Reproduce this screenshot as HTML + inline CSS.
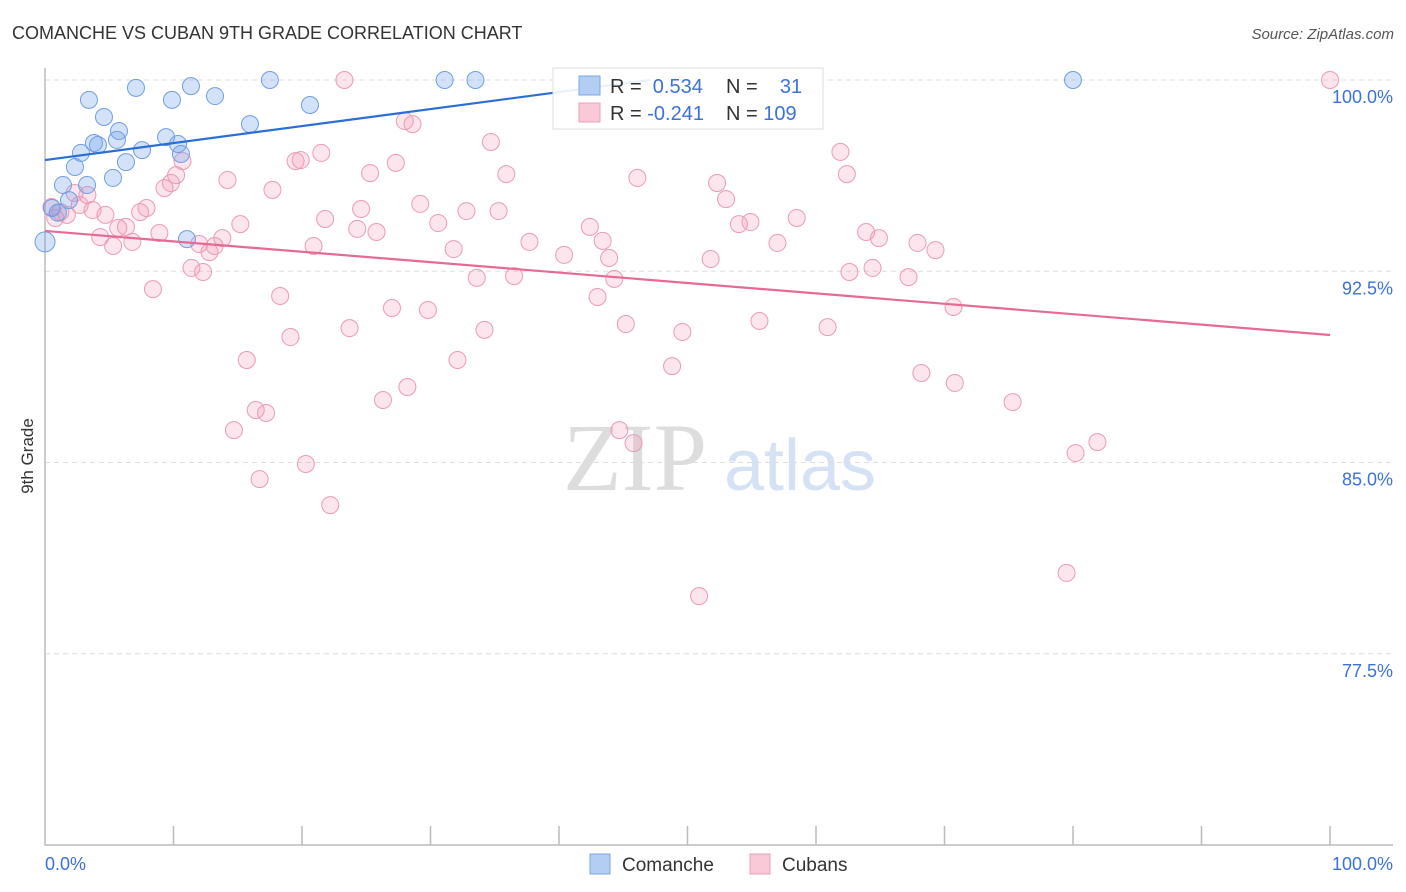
<!DOCTYPE html>
<html><head><meta charset="utf-8"><style>
body{margin:0;background:#fff;width:1406px;height:892px;overflow:hidden;font-family:"Liberation Sans",sans-serif}
svg{position:absolute;left:0;top:0}
</style></head><body>
<svg id="chart" width="1406" height="892">
<text x="12" y="39" font-size="18" fill="#333">COMANCHE VS CUBAN 9TH GRADE CORRELATION CHART</text>
<text x="1394" y="39" font-size="15" fill="#555" font-style="italic" text-anchor="end">Source: ZipAtlas.com</text>
<text x="33" y="456" font-size="17" fill="#333" text-anchor="middle" transform="rotate(-90 33 456)">9th Grade</text>
<text x="635" y="490" font-size="96" fill="#ddd" font-family="Liberation Serif,serif" text-anchor="middle">ZIP</text>
<text x="800" y="490" font-size="72" fill="#d5e2f5" text-anchor="middle">atlas</text>
<g id="grid"></g><g id="axes"></g><g id="pts"></g><g id="lines"></g>
<g>
<rect x="553" y="68" width="270" height="61" fill="#fff" fill-opacity="0.9" stroke="#ddd"/>
<rect x="579" y="76" width="21" height="19" fill="#b3cdf3" stroke="#7aa7e6"/>
<rect x="579" y="103" width="21" height="19" fill="#f9c9d7" stroke="#eca0b8"/>
<text x="610" y="93" font-size="20" fill="#333">R = <tspan fill="#3b72d9">&#160;0.534</tspan></text>
<text x="726" y="93" font-size="20" fill="#333">N = <tspan fill="#3b72d9">&#160;&#160;&#160;31</tspan></text>
<text x="610" y="120" font-size="20" fill="#333">R = <tspan fill="#3b72d9">-0.241</tspan></text>
<text x="726" y="120" font-size="20" fill="#333">N = <tspan fill="#3b72d9">109</tspan></text>
</g>
<g>
<rect x="590" y="854" width="20" height="20" fill="#b3cdf3" stroke="#7aa7e6"/>
<text x="622" y="871" font-size="19" fill="#333">Comanche</text>
<rect x="750" y="854" width="20" height="20" fill="#f9c9d7" stroke="#eca0b8"/>
<text x="782" y="871" font-size="19" fill="#333">Cubans</text>
</g>
</svg>
<script>
const yTicks=[100,92.5,85,77.5];
const yTickLabels=["100.0%","92.5%","85.0%","77.5%"];
const xTickLabels=["0.0%","100.0%"];
const comancheX=[0,0.54,1.4,1.87,2.33,2.8,3.27,3.42,3.81,4.12,4.59,5.29,5.6,5.76,6.3,7.08,7.55,9.42,9.88,10.35,10.58,11.05,11.36,13.23,15.95,17.5,20.62,31.1,33.5,80.0,1.0];
const comancheY=[93.65,94.98,95.88,95.29,96.59,97.14,95.88,99.22,97.53,97.45,98.55,96.16,97.65,98.0,96.78,99.69,97.25,97.76,99.22,97.49,97.1,93.76,99.76,99.37,98.27,100,99.02,100,100,100,94.8];
const cubansX=[0.5,0.8,1.2,1.7,2.3,2.7,3.3,3.7,4.3,4.7,5.3,5.7,6.3,6.8,7.4,7.9,8.4,8.9,9.3,9.8,10.2,10.7,11.4,12.0,12.3,12.8,13.2,13.8,14.2,14.7,15.2,15.7,16.4,16.7,17.2,17.7,18.3,19.1,19.5,19.9,20.3,20.9,21.5,21.8,22.2,23.3,23.7,24.3,24.6,25.3,25.8,26.3,27.0,27.3,28.0,28.2,28.6,29.2,29.8,30.6,31.8,32.1,32.8,33.6,34.2,34.7,35.3,35.9,36.5,37.7,40.4,42.4,43.0,43.4,43.9,44.3,44.7,45.2,45.8,46.1,48.8,49.6,50.9,51.8,52.3,53.0,54.0,54.9,55.6,57.0,58.5,60.9,61.9,62.4,62.6,63.9,64.4,64.9,67.2,67.9,68.2,69.3,70.7,70.8,75.3,79.5,80.2,81.9,100];
const cubansY=[95.02,94.59,94.82,94.71,95.57,95.1,95.49,94.9,93.84,94.71,93.49,94.2,94.24,93.65,94.82,94.98,91.8,94.0,95.76,95.96,96.27,96.82,92.63,93.57,92.47,93.25,93.49,93.8,96.08,86.27,94.35,89.02,87.06,84.35,86.94,95.69,91.53,89.92,96.82,96.86,84.94,93.49,97.14,94.55,83.33,100,90.27,94.16,94.94,96.35,94.04,87.45,91.06,96.75,98.39,87.96,98.27,95.14,90.98,94.39,93.37,89.02,94.86,92.24,90.2,97.57,94.86,96.31,92.31,93.65,93.14,94.24,91.49,93.69,93.02,92.2,86.27,90.43,85.76,96.16,88.78,90.12,79.76,92.98,95.96,95.33,94.35,94.43,90.55,93.61,94.59,90.31,97.18,96.31,92.47,94.04,92.63,93.8,92.27,93.61,88.51,93.33,91.1,88.12,87.37,80.67,85.37,85.8,100];
const trendComanche=[0,96.86,47.1,100];
const trendCubans=[0,94.08,100,90.0];

const X=v=>45+v*12.85;
const Y=v=>80+(100-v)*25.5;
const NS="http://www.w3.org/2000/svg";
function mk(t,a,parent){const e=document.createElementNS(NS,t);for(const k in a)e.setAttribute(k,a[k]);parent.appendChild(e);return e;}
const grid=document.getElementById('grid'),axes=document.getElementById('axes'),pts=document.getElementById('pts'),lines=document.getElementById('lines');
yTicks.forEach((t,i)=>{
 const g=mk('line',{x1:45,x2:1393,y1:Y(t),y2:Y(t),stroke:'#ddd','stroke-dasharray':'5,4'},grid);
 
 
 const l=mk('text',{x:1393,y:Y(t)+23,'font-size':18,fill:'#3b72d9','text-anchor':'end'},grid);
 l.textContent=yTickLabels[i];
 
 
});
const ax=mk('path',{d:`M45 68V845H1393`,stroke:'#bbb',fill:'none','stroke-width':1.5},axes);


for(let i=1;i<=10;i++){
 const t=mk('line',{x1:X(i*10),x2:X(i*10),y1:826,y2:845,stroke:'#bbb','stroke-width':1.5},axes);
 
 
}
[[0,'start'],[100,'end']].forEach((p,i)=>{
 const l=mk('text',{x:i?1393:45,y:870,'font-size':18,fill:'#3b72d9','text-anchor':p[1]},axes);
 l.textContent=xTickLabels[i];
 
 
});
cubansX.forEach((x,i)=>{
 const c=mk('circle',{cx:X(x),cy:Y(cubansY[i]),r:8.5,fill:'rgba(242,150,180,0.25)',stroke:'#eb9bb6','stroke-width':1},pts);
 
 
});
comancheX.forEach((x,i)=>{
 const c=mk('circle',{cx:X(x),cy:Y(comancheY[i]),r:i==0?10:8.5,fill:'rgba(110,160,235,0.3)',stroke:'#6f9fe2','stroke-width':1},pts);
 
 
});
const l1=mk('line',{x1:X(trendComanche[0]),y1:Y(trendComanche[1]),x2:X(trendComanche[2]),y2:Y(trendComanche[3]),stroke:'#2a6fd6','stroke-width':2.2},lines);


const l2=mk('line',{x1:X(trendCubans[0]),y1:Y(trendCubans[1]),x2:X(trendCubans[2]),y2:Y(trendCubans[3]),stroke:'#e66a94','stroke-width':2.2},lines);


</script>
</body></html>
